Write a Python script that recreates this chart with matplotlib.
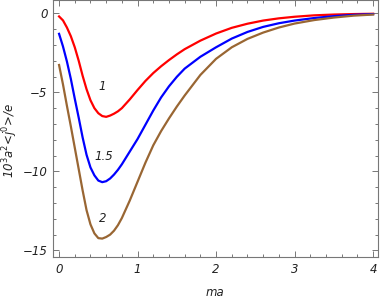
import matplotlib
matplotlib.use("Agg")
import matplotlib.pyplot as plt
from matplotlib.ticker import MultipleLocator

# данные
ma = [0, 0.05, 0.1, 0.15, 0.2, 0.25, 0.3, 0.35, 0.4, 0.45, 0.5, 0.55, 0.6,
      0.65, 0.7, 0.75, 0.8, 0.9, 1.0, 1.1, 1.2, 1.3, 1.4, 1.5, 1.6, 1.8,
      2.0, 2.2, 2.4, 2.6, 2.8, 3.0, 3.25, 3.5, 3.75, 4.0]

j_1 = [-0.20, -0.45, -0.90, -1.45, -2.15, -3.00, -3.95, -4.80, -5.50, -6.00,
       -6.32, -6.50, -6.55, -6.47, -6.35, -6.20, -6.00, -5.45, -4.85, -4.28,
       -3.78, -3.35, -2.96, -2.60, -2.27, -1.73, -1.28, -0.92, -0.66, -0.46,
       -0.32, -0.22, -0.13, -0.08, -0.05, -0.03]

j_15 = [-1.30, -2.10, -3.05, -4.15, -5.40, -6.60, -7.85, -8.95, -9.75, -10.25,
        -10.58, -10.68, -10.62, -10.45, -10.20, -9.90, -9.55, -8.75, -7.95,
        -7.05, -6.15, -5.32, -4.62, -4.02, -3.50, -2.75, -2.15, -1.60, -1.18,
        -0.86, -0.63, -0.46, -0.30, -0.18, -0.10, -0.05]

j_2 = [-3.27, -4.50, -5.85, -7.15, -8.50, -9.85, -11.20, -12.45, -13.35, -13.92,
       -14.22, -14.25, -14.15, -14.00, -13.75, -13.40, -12.95, -11.85, -10.65,
       -9.45, -8.35, -7.45, -6.65, -5.90, -5.20, -3.90, -2.88, -2.15, -1.62,
       -1.22, -0.90, -0.65, -0.43, -0.27, -0.15, -0.08]

curve_labels = ["1", "1.5", "2"]
label_x = [0.555, 0.57, 0.55]
label_y = [-4.65, -9.07, -12.97]

plt.rcParams['mathtext.default'] = 'it'
txt = '#222222'
frame = '#777777'

fig = plt.figure(figsize=(3.82, 3.0), dpi=100)
ax = fig.add_axes([0.139, 0.143, 0.850, 0.857])

ax.plot(ma, j_1, color='#ff0000', lw=1.6)
ax.plot(ma, j_15, color='#0000ff', lw=1.6)
ax.plot(ma, j_2, color='#996633', lw=1.6)

for s, xx, yy in zip(curve_labels, label_x, label_y):
    ax.text(xx, yy, s, style='italic', fontsize=8.5, color=txt,
            ha='center', va='center')

ax.set_xlim(-0.076, 4.06)
ax.set_ylim(-15.42, 0.84)

ax.xaxis.set_minor_locator(MultipleLocator(0.2))
ax.yaxis.set_minor_locator(MultipleLocator(1))
ax.set_xticks([0, 1, 2, 3, 4])
ax.set_xticklabels(['0', '1', '2', '3', '4'])
ax.set_yticks([0, -5, -10, -15])
ax.set_yticklabels(['0', '\u22125', '\u221210', '\u221215'])

ax.tick_params(which='both', direction='in', top=True, right=True,
               color=frame, labelsize=8.5, labelcolor=txt, width=0.7)
ax.tick_params(which='major', length=4.5, pad=4)
ax.tick_params(which='minor', length=2.5)
for lab in ax.get_xticklabels() + ax.get_yticklabels():
    lab.set_style('italic')

for sp in ax.spines.values():
    sp.set_color(frame)
    sp.set_linewidth(0.8)

ax.set_xlabel('ma', style='italic', fontsize=8.5, color=txt)
ax.xaxis.set_label_coords(0.5, -0.113)
ax.set_ylabel('10$^3$a$^2$<j$^0$>/e', style='italic', fontsize=8.5, color=txt)
ax.yaxis.set_label_coords(-0.103, 0.455)

fig.savefig('out.png', dpi=100)
